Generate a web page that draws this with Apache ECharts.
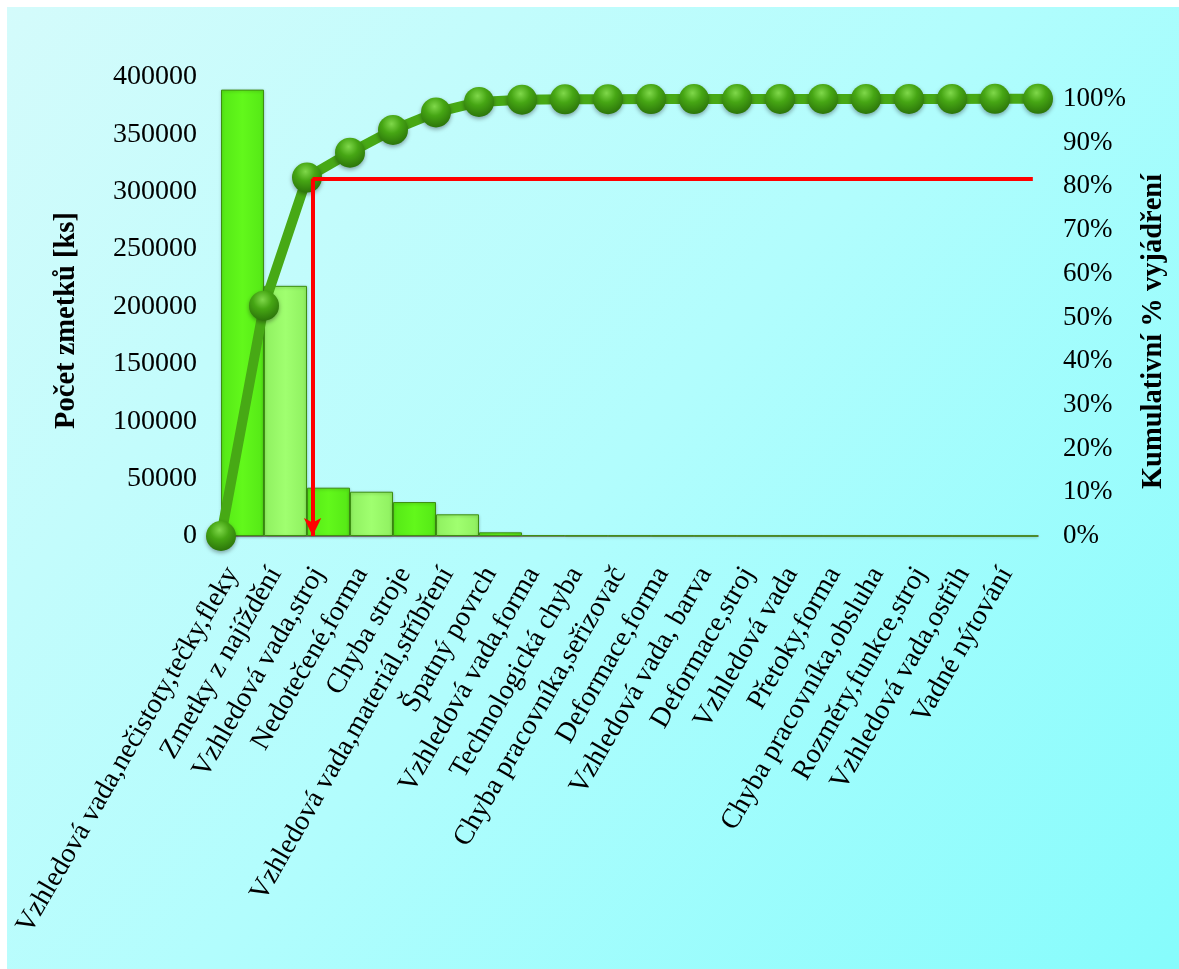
<!DOCTYPE html>
<html>
<head>
<meta charset="utf-8">
<script src="https://cdn.jsdelivr.net/npm/echarts@6/dist/echarts.min.js"></script>
<style>
html,body{margin:0;padding:0;background:#fff;}
#chart{width:1179px;height:969px;}
</style>
</head>
<body>
<div id="chart"></div>
<script>
const categories = [
  'Vzhledová vada,nečistoty,tečky,fleky',
  'Zmetky z najíždění',
  'Vzhledová vada,stroj',
  'Nedotečené,forma',
  'Chyba stroje',
  'Vzhledová vada,materiál,stříbření',
  'Špatný povrch',
  'Vzhledová vada,forma',
  'Technologická chyba',
  'Chyba pracovníka,seřizovač',
  'Deformace,forma',
  'Vzhledová vada, barva',
  'Deformace,stroj',
  'Vzhledová vada',
  'Přetoky,forma',
  'Chyba pracovníka,obsluha',
  'Rozměry,funkce,stroj',
  'Vzhledová vada,ostřih',
  'Vadné nýtování'
];
const rejects = [389000, 218000, 42100, 38600, 29600, 18900, 3200, 600, 400, 300, 250, 200, 150, 120, 100, 80, 60, 40, 30];
// cumulative share, starting point 0 then one point per category boundary
const cumulative = [0, 0.527, 0.82, 0.877, 0.929, 0.969, 0.993, 0.998, 0.999, 0.9993, 0.9995, 0.9996, 0.9997, 0.9998, 0.9998, 0.9999, 0.9999, 0.99995, 0.99998, 1.0];
const leftTicks = { min: 0, max: 400000, interval: 50000 };
const rightTicks = { min: 0, max: 1.05, interval: 0.1 };
const cutoff = { x: 2.13, y: 0.817, xEnd: 18.88 };

const chart = echarts.init(document.getElementById('chart'), null, { renderer: 'canvas' });
const serif = 'Liberation Serif, Times New Roman, serif';

const option = {
  animation: false,
  graphic: [{
    type: 'rect', left: 7, top: 7, z: -10,
    shape: { width: 1172, height: 962 },
    style: {
      fill: new echarts.graphic.LinearGradient(0, 0, 1, 1, [
        { offset: 0, color: '#d4fbfb' },
        { offset: 0.5, color: '#b2fdfd' },
        { offset: 1, color: '#86fcfc' }
      ])
    }
  }],
  grid: { left: 221, right: 141, top: 77, bottom: 433, containLabel: false },
  xAxis: [{
    type: 'category',
    data: categories,
    axisLine: { show: true, lineStyle: { color: '#8c8c8c', width: 2 } },
    axisTick: { show: false },
    axisLabel: {
      interval: 0, rotate: 60, margin: 16,
      padding: [0, 20, 26, 0],
      fontFamily: serif, fontSize: 28, color: '#000'
    },
    splitLine: { show: false }
  }, {
    type: 'value', min: 0, max: categories.length, show: false
  }],
  yAxis: [{
    type: 'value',
    min: leftTicks.min, max: leftTicks.max, interval: leftTicks.interval,
    name: 'Počet zmetků [ks]',
    nameLocation: 'middle', nameRotate: 90, nameGap: 140,
    nameTextStyle: { fontFamily: serif, fontSize: 28.5, fontWeight: 'bold', color: '#000', padding: [0, 28, 0, 0] },
    axisLine: { show: false }, axisTick: { show: false },
    splitLine: { show: false },
    axisLabel: { fontFamily: serif, fontSize: 28, color: '#000', margin: 24, formatter: v => String(v) }
  }, {
    type: 'value',
    min: rightTicks.min, max: rightTicks.max, interval: rightTicks.interval,
    position: 'right',
    name: 'Kumulativní % vyjádření',
    nameLocation: 'middle', nameRotate: 90, nameGap: 101,
    nameTextStyle: { fontFamily: serif, fontSize: 28.5, fontWeight: 'bold', color: '#000', padding: [0, 50, 0, 0] },
    axisLine: { show: false }, axisTick: { show: false },
    splitLine: { show: false },
    axisLabel: {
      fontFamily: serif, fontSize: 27, color: '#000', margin: 25,
      formatter: v => v > 1.001 ? '' : Math.round(v * 100) + '%'
    }
  }],
  series: [{
    type: 'bar',
    data: rejects,
    xAxisIndex: 0, yAxisIndex: 0,
    barCategoryGap: 0,
    itemStyle: {
      color: p => p.dataIndex % 2 === 0
        ? new echarts.graphic.LinearGradient(0, 0, 1, 0, [
            { offset: 0, color: '#55e816' }, { offset: 0.5, color: '#62f81b' }, { offset: 1, color: '#55e816' }])
        : new echarts.graphic.LinearGradient(0, 0, 1, 0, [
            { offset: 0, color: '#8ff060' }, { offset: 0.5, color: '#a0ff70' }, { offset: 1, color: '#8ff060' }]),
      borderColor: '#3d8f12', borderWidth: 1,
      shadowColor: 'rgba(0,0,0,0.25)', shadowBlur: 3, shadowOffsetY: 1
    },
    z: 2
  }, {
    type: 'line',
    xAxisIndex: 1, yAxisIndex: 1,
    data: cumulative.map((v, i) => [i, v]),
    lineStyle: { color: '#47a915', width: 10 },
    symbol: 'circle', symbolSize: 30,
    itemStyle: {
      color: new echarts.graphic.RadialGradient(0.45, 0.3, 0.7, [
        { offset: 0, color: '#7fd84a' },
        { offset: 0.45, color: '#46a614' },
        { offset: 1, color: '#2c760a' }
      ]),
      shadowColor: 'rgba(0,0,0,0.35)', shadowBlur: 4, shadowOffsetY: 2
    },
    z: 3
  }, {
    type: 'line',
    xAxisIndex: 1, yAxisIndex: 1,
    data: [],
    z: 5,
    markLine: {
      silent: true,
      animation: false,
      label: { show: false },
      lineStyle: { color: '#ff0000', width: 4, type: 'solid' },
      data: [
        [{ coord: [cutoff.xEnd, cutoff.y], symbol: 'none' }, { coord: [cutoff.x, cutoff.y], symbol: 'none' }],
        [{ coord: [cutoff.x, cutoff.y], symbol: 'none' }, { coord: [cutoff.x, 0], symbol: 'arrow', symbolSize: [13, 18] }]
      ]
    }
  }]
};
chart.setOption(option);
</script>
</body>
</html>
